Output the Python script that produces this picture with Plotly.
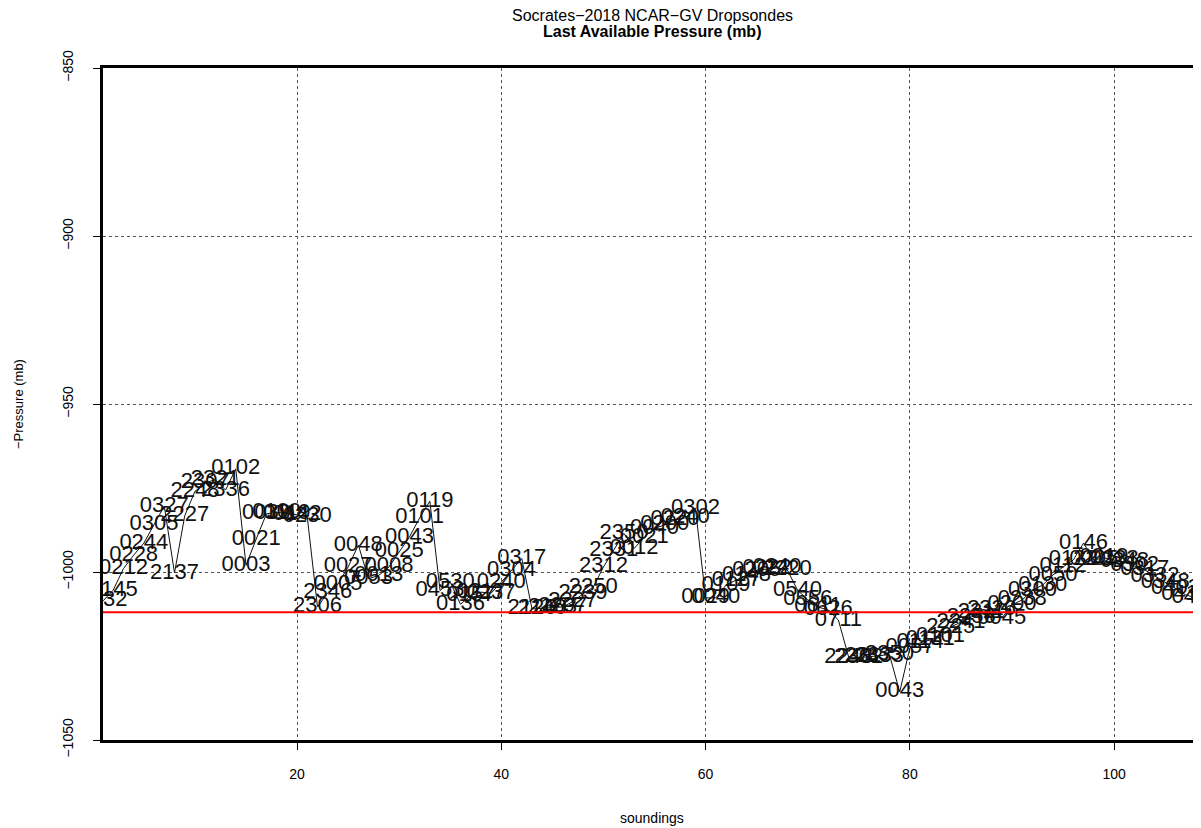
import plotly.graph_objects as go

# sounding index
soundings = list(range(1, 109))

# launch times (HHMM) used as point labels
times = [
    "0132", "0145", "0212", "0228", "0244", "0305", "0327", "2137", "2227", "2248",
    "2307", "2321", "2336", "0102", "0003", "0021", "0039", "0100", "0119", "0142",
    "0230", "2306", "2346", "0005", "0027", "0048", "0053", "0013", "0008", "0025",
    "0043", "0101", "0119", "0453", "0530", "0136", "0157", "0217", "0237", "0240",
    "0304", "0317", "2126", "2140", "2153", "2207", "2227", "2239", "2250", "2312",
    "2331", "2350", "0012", "0021", "0040", "0200", "0220", "0240", "0302", "0029",
    "0040", "0109", "0127", "0148", "0205", "0222", "0240", "2220", "0540", "0556",
    "0611", "0626", "0711", "2248", "2302", "2317", "2333", "2350", "0043", "0057",
    "0114", "0131", "0101", "2225", "2241", "2256", "2311", "2326", "0045", "0200",
    "0238", "0300", "0130", "0050", "0112", "0122", "0146", "0205", "0219", "0233",
    "0248", "0302", "0317", "0332", "0348", "0403", "0419", "0446",
]

# negative of last available pressure (mb)
neg_pressure = [
    -1008.6, -1005.4, -999.0, -995.0, -991.4, -986.0, -980.4, -1000.3, -983.3, -976.0,
    -973.5, -972.5, -975.6, -969.3, -998.0, -990.2, -982.7, -982.2, -982.5, -983.0,
    -983.6, -1010.4, -1006.2, -1003.6, -998.5, -992.0, -1002.0, -1001.0, -998.5, -994.0,
    -989.6, -983.9, -978.9, -1005.5, -1003.0, -1009.6, -1007.0, -1006.0, -1006.3, -1003.0,
    -999.6, -996.0, -1011.0, -1010.8, -1010.5, -1010.4, -1008.8, -1006.5, -1004.5, -998.5,
    -993.5, -988.5, -993.0, -989.6, -987.0, -986.0, -984.5, -983.9, -981.0, -1007.7,
    -1007.7, -1003.9, -1002.4, -1000.9, -999.7, -999.1, -998.8, -999.4, -1005.4, -1008.3,
    -1010.4, -1011.3, -1014.3, -1025.3, -1025.5, -1025.2, -1025.0, -1024.6, -1035.7, -1022.6,
    -1021.1, -1020.2, -1019.3, -1016.4, -1014.9, -1013.4, -1012.2, -1011.3, -1013.7, -1009.8,
    -1008.3, -1005.4, -1003.9, -1000.9, -998.5, -996.4, -991.4, -996.4, -995.8, -996.4,
    -997.0, -998.2, -999.4, -1001.2, -1003.0, -1004.8, -1006.8, -1007.7,
]

reference_level = -1012.0

x_ticks = [20, 40, 60, 80, 100]
y_ticks = [-1050, -1000, -950, -900, -850]

FONT = "Liberation Sans, Arial, Helvetica, sans-serif"

fig = go.Figure()

fig.add_trace(go.Scatter(
    x=soundings, y=neg_pressure, text=times,
    mode="lines+text",
    line=dict(color="#111111", width=1),
    textposition="middle center",
    textfont=dict(family=FONT, size=22, color="#111111"),
    cliponaxis=True,
    showlegend=False,
    hoverinfo="skip",
))

fig.add_trace(go.Scatter(
    x=[0, 200], y=[reference_level, reference_level],
    mode="lines", line=dict(color="#ff0000", width=2),
    showlegend=False, hoverinfo="skip",
))

# the page body adds an 8px offset, so the figure is sized/margined to compensate
fig.update_layout(
    width=1193, height=820,
    margin=dict(l=95, r=0, t=60, b=88, autoexpand=False),
    paper_bgcolor="white", plot_bgcolor="white",
    font=dict(family=FONT, size=14, color="black"),
    showlegend=False,
    annotations=[
        dict(text="Socrates\u22122018 NCAR\u2212GV Dropsondes", xref="paper", yref="paper",
             x=0.5, y=1, yshift=53, xanchor="center", yanchor="middle", showarrow=False,
             font=dict(family=FONT, size=16, color="black")),
        dict(text="<b>Last Available Pressure (mb)</b>", xref="paper", yref="paper",
             x=0.5, y=1, yshift=37, xanchor="center", yanchor="middle", showarrow=False,
             font=dict(family=FONT, size=16, color="black")),
        dict(text="\u2212Pressure (mb)", xref="paper", yref="paper",
             x=0, y=0.5, xshift=-85, xanchor="center", yanchor="middle", showarrow=False,
             textangle=-90, font=dict(family=FONT, size=13, color="black")),
        dict(text="soundings", xref="paper", yref="paper",
             x=0.5, y=0, yshift=-78, xanchor="center", yanchor="middle", showarrow=False,
             font=dict(family=FONT, size=14, color="black")),
    ],
)

fig.update_xaxes(
    range=[1, 108.5],
    tickvals=x_ticks,
    ticks="outside", ticklen=7, tickwidth=1, tickcolor="black",
    ticklabelstandoff=12,
    tickfont=dict(size=14),
    automargin=False,
    showline=True, linewidth=3, linecolor="black", mirror=True,
    showgrid=True, gridcolor="#555555", griddash="3px,3px", gridwidth=1,
    zeroline=False,
)

fig.update_yaxes(
    range=[-1050, -850],
    tickvals=y_ticks,
    tickangle=-90,
    ticks="outside", ticklen=7, tickwidth=1, tickcolor="black",
    ticklabelstandoff=14,
    tickfont=dict(size=14),
    automargin=False,
    showline=True, linewidth=3, linecolor="black", mirror=False,
    showgrid=True, gridcolor="#555555", griddash="3px,3px", gridwidth=1,
    zeroline=False,
)

fig.write_html("out.html")
